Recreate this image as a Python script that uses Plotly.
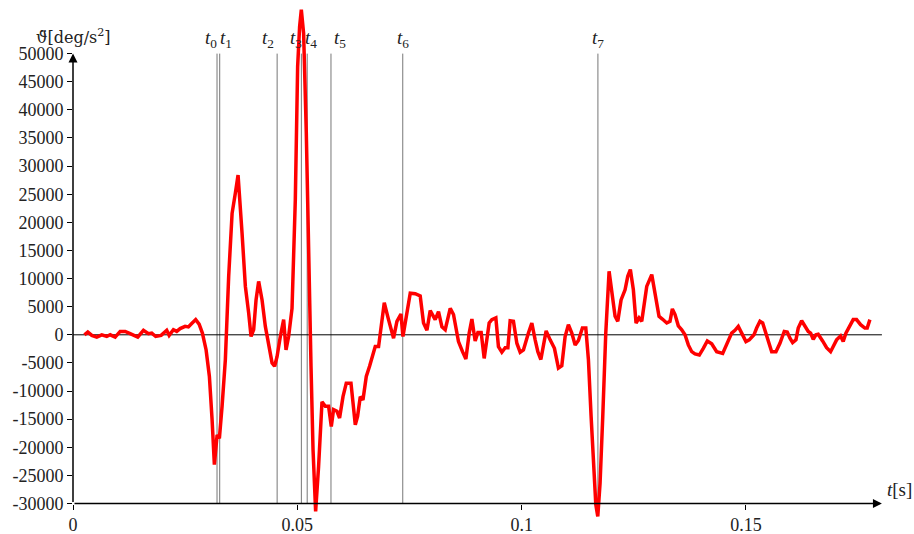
import plotly.graph_objects as go

# time samples (ms) and angular acceleration values (deg/s^2)
t_ms = [2.56, 3.30, 4.19, 5.30, 6.41, 7.53, 8.29, 9.40, 10.51, 11.63, 12.74, 14.43, 15.70, 16.82,
        17.55, 18.44, 19.64, 20.89, 21.43, 22.38, 23.12, 23.88, 24.99, 25.72, 26.46, 27.35, 28.11,
        28.84, 29.67, 30.40, 31.00, 31.51, 32.12, 32.63, 33.23, 33.96, 34.70, 35.46, 36.19, 36.79,
        37.68, 38.42, 39.15, 39.69, 40.27, 40.80, 41.38, 42.14, 42.87, 43.61, 44.37, 44.94, 45.48,
        46.21, 46.95, 47.48, 48.06, 48.82, 49.55, 50.07, 50.51, 50.89, 51.40, 52.00, 52.52, 53.05,
        53.50, 54.08, 54.74, 55.50, 56.24, 56.97, 57.57, 58.08, 58.84, 59.42, 60.18, 60.91, 61.96,
        62.92, 63.43, 64.03, 64.63, 65.37, 66.10, 66.64, 67.37, 68.11, 69.38, 70.33, 71.45, 72.20,
        73.10, 73.54, 74.43, 75.17, 76.28, 77.39, 78.13, 78.89, 79.62, 80.73, 81.47, 82.23, 82.96,
        84.08, 84.81, 85.92, 86.82, 87.57, 88.31, 88.91, 89.64, 90.25, 90.98, 91.65, 92.76, 93.36,
        94.25, 94.83, 95.59, 96.33, 96.93, 97.44, 98.17, 98.93, 99.67, 100.40, 101.51, 102.27,
        103.01, 103.61, 104.28, 104.85, 105.46, 106.35, 107.31, 108.20, 108.95, 109.69, 110.42,
        111.18, 111.92, 112.65, 113.54, 114.30, 114.88, 115.48, 115.99, 116.53, 116.97, 117.48,
        118.08, 118.75, 119.49, 120.22, 120.82, 121.43, 122.16, 123.05, 123.65, 124.23, 124.90,
        125.50, 126.17, 126.77, 127.88, 129.00, 129.73, 130.62, 131.36, 132.34, 133.07, 133.59,
        134.19, 134.92, 135.68, 136.41, 137.15, 137.91, 138.64, 139.60, 140.49, 141.38, 142.36,
        143.47, 144.81, 145.84, 146.81, 147.55, 148.29, 149.04, 150.00, 150.73, 151.78, 152.38,
        153.12, 153.72, 154.61, 155.73, 156.68, 157.57, 158.53, 159.20, 159.80, 160.40, 161.14,
        161.65, 162.41, 163.14, 163.88, 164.41, 164.99, 165.59, 166.10, 167.08, 167.97, 168.86,
        169.44, 170.20, 171.09, 171.67, 172.27, 173.16, 173.90, 174.65, 175.55, 176.50, 177.02,
        177.62]

acc = [0, 500, -100, -400, 0, -300, 0, -400, 600, 600, 200, -400, 800, 200,
       300, -300, -100, 800, -100, 900, 600, 1100, 1500, 1400, 2000, 2700, 1900,
       300, -2700, -7400, -15100, -23100, -17800, -18400, -12700, -4400, 10400, 21600, 25200, 28400,
       18100, 8600, 3900, -300, 900, 6200, 9500, 6200, 1500, -2100, -5000, -5600, -3900,
       -300, 2700, -2700, -300, 4700, 24000, 47700, 54800, 57800, 53600, 35900, 12100, -5600,
       -20400, -31400, -23400, -11900, -12700, -12700, -16300, -13300, -13600, -14800, -11000, -8600, -8600,
       -16000, -14500, -11000, -11600, -7400, -5600, -3900, -2100, -2100, 5700, 2700, -600, 2400,
       3700, -300, 4400, 7400, 7300, 6900, 2100, 800, 4300, 2700, 4100, 1400, 900,
       4700, 3600, -1200, -3000, -4300, 300, 2800, -1100, 400, 400, -4200, 2100, 2700,
       3000, -2100, -3100, -2300, -2300, 2500, 2400, -1500, -3100, -2700, 300, 2100,
       -900, -3000, -4400, -1800, 700, -900, -2400, -5900, -5500, -300, 1800,
       300, -1800, -1000, 1200, 1200, -4400, -14500, -23400, -30200, -32300, -26400,
       -14500, 300, 11300, 6800, 3300, 2400, 6200, 8000, 10400, 11600, 8000,
       2100, 3000, 2400, 8600, 10700, 7400, 3300, 2800, 2100, 2400, 4600,
       3600, 1600, 900, 0, -1800, -3000, -3400, -3600, -2400, -1100, -1600,
       -3000, -3300, -1500, 300, 800, 1500, 300, -1200, -900, 0, 1200,
       2400, 2100, -300, -3000, -3000, -1500, 600, 500, -600, -1400, -900,
       1200, 2500, 1500, 600, 300, -800, 0, 100, -1100, -2300, -3000,
       -2100, -900, -200, -1200, 300, 1800, 2700, 2700, 1800, 1200, 1200,
       2700]

t_s = [v / 1000 for v in t_ms]

# event times
event_names = ["0", "1", "2", "3", "4", "5", "6", "7"]
event_times = [0.0321, 0.0327, 0.0455, 0.0509, 0.0522, 0.0575, 0.0735, 0.1170]
label_shift = [-6, 6, -9, -5, 4, 9, 0, 0]

y_ticks = list(range(-30000, 50001, 5000))
x_ticks = [0, 0.05, 0.1, 0.15]
x_tick_text = ["0", "0.05", "0.1", "0.15"]

Y_MIN, Y_MAX = -34000, 59000
X_MAX = 0.185
AX_END = 0.1803
FONT = "Liberation Serif, DejaVu Serif, serif"
TXT = "#222222"

fig = go.Figure()
fig.add_trace(go.Scatter(x=t_s, y=acc, mode="lines",
                         line=dict(color="#ff0000", width=3.5), showlegend=False))

shapes = []
for tv in event_times:
    shapes.append(dict(type="line", xref="x", yref="y", x0=tv, x1=tv, y0=-30000, y1=50000,
                       line=dict(color="#777777", width=1), layer="below"))
shapes.append(dict(type="line", xref="x", yref="y", x0=0, x1=AX_END, y0=0, y1=0,
                   line=dict(color="black", width=1), layer="below"))

annotations = []
# axes with arrows
annotations.append(dict(x=0, y=50000, ax=0, ay=-30000, xref="x", yref="y", axref="x", ayref="y",
                        text="", showarrow=True, arrowhead=2, arrowsize=1.2, arrowwidth=1.5,
                        arrowcolor="black", standoff=0))
annotations.append(dict(x=AX_END, y=-30000, ax=0, ay=-30000, xref="x", yref="y", axref="x", ayref="y",
                        text="", showarrow=True, arrowhead=2, arrowsize=1.2, arrowwidth=1.5,
                        arrowcolor="black", standoff=0))
for name, tv, sh in zip(event_names, event_times, label_shift):
    annotations.append(dict(x=tv, y=50000, xref="x", yref="y", text=f"<i>t</i><sub>{name}</sub>",
                            showarrow=False, xanchor="center", yanchor="bottom", xshift=sh, yshift=1,
                            font=dict(family=FONT, size=19, color=TXT)))
annotations.append(dict(x=0, y=50000, xref="x", yref="y", text="\u03d1\u0308[deg/s<sup>2</sup>]",
                        showarrow=False, xanchor="center", yanchor="bottom", yshift=5,
                        font=dict(family="DejaVu Serif, serif", size=16, color=TXT)))
annotations.append(dict(x=AX_END, y=-30000, xref="x", yref="y", text="<i>t</i>[s]",
                        showarrow=False, xanchor="left", yanchor="bottom", xshift=3, yshift=2,
                        font=dict(family=FONT, size=19, color=TXT)))

pos = (-30000 - Y_MIN) / (Y_MAX - Y_MIN)
tickfont = dict(family=FONT, size=18, color=TXT)

fig.update_layout(
    width=914, height=534,
    margin=dict(l=72.5, r=914 - 72.5 - X_MAX * 4490, t=3.1, b=534 - 3.1 - (Y_MAX - Y_MIN) * 0.005625),
    paper_bgcolor="white", plot_bgcolor="white",
    font=dict(family=FONT, size=18, color=TXT),
    shapes=shapes, annotations=annotations,
    xaxis=dict(range=[0, X_MAX], showgrid=False, zeroline=False, showline=False,
               tickvals=x_ticks, ticktext=x_tick_text, ticks="outside", ticklen=5,
               tickcolor="black", tickwidth=1, anchor="free", position=pos, automargin=False,
               tickfont=tickfont),
    yaxis=dict(range=[Y_MIN, Y_MAX], showgrid=False, zeroline=False, showline=False,
               tickvals=y_ticks, ticktext=[str(v) for v in y_ticks], ticks="outside", ticklen=5,
               tickcolor="black", tickwidth=1, automargin=False, tickfont=tickfont),
)

fig.write_html("out.html")
